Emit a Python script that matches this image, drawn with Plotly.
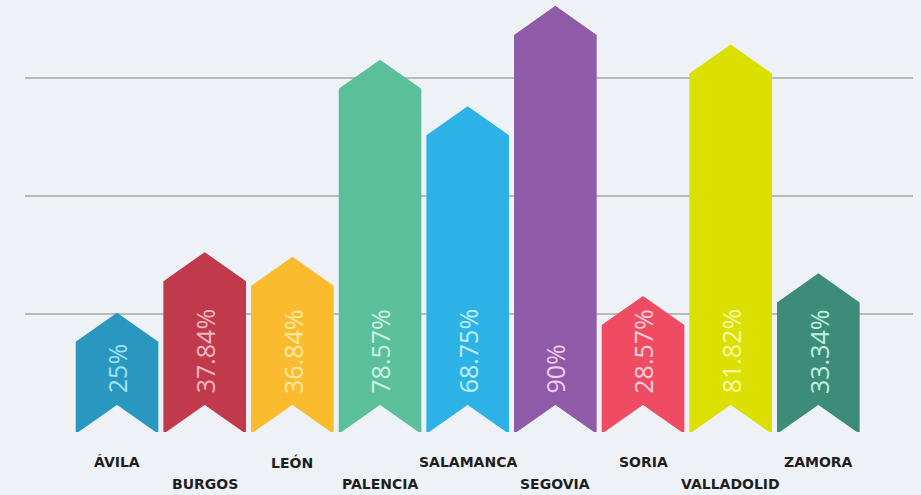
import plotly.graph_objects as go

provinces = ["ÁVILA", "BURGOS", "LEÓN", "PALENCIA", "SALAMANCA", "SEGOVIA", "SORIA", "VALLADOLID", "ZAMORA"]
values = [25, 37.84, 36.84, 78.57, 68.75, 90, 28.57, 81.82, 33.34]
labels = ["25%", "37.84%", "36.84%", "78.57%", "68.75%", "90%", "28.57%", "81.82%", "33.34%"]
colors = ["#2a97c0", "#c13a4b", "#fbbb2e", "#5cbf9c", "#2db2e8", "#8f5ba8", "#ef4b63", "#dce000", "#3d8c78"]
text_colors = ["#9fe4f7", "#f6b8c4", "#fde9a6", "#cdf5e3", "#c4efff", "#f2cdf2", "#ffd3db", "#f8f8a8", "#bdf0e2"]
grid_values = [0, 25, 50, 75]

hw = 0.46   # half bar width (category units)
d = 6.0     # chevron depth (value units)

fig = go.Figure()
for i, (v, c) in enumerate(zip(values, colors)):
    xs = [i - hw, i - hw, i, i + hw, i + hw, i, i - hw]
    ys = [0, v - d, v, v - d, 0, d, 0]
    fig.add_trace(go.Scatter(
        x=xs, y=ys, mode="lines", fill="toself", fillcolor=c,
        line=dict(color=c, width=2), hoverinfo="skip", showlegend=False,
    ))
    fig.add_annotation(
        x=i, y=d, yshift=8, text=labels[i], textangle=-90, showarrow=False,
        xanchor="center", yanchor="bottom",
        font=dict(family="Open Sans", size=25, color=text_colors[i]),
    )
    fig.add_annotation(
        x=i, y=0, yshift=-30 if i % 2 == 0 else -52, text="<b>" + provinces[i] + "</b>",
        showarrow=False, xanchor="center", yanchor="middle",
        font=dict(family="DejaVu Sans", size=14, color="#1e1e1e"),
    )

fig.update_layout(
    width=921, height=495,
    margin=dict(l=25, r=8, t=0, b=63),
    paper_bgcolor="#eef2f6", plot_bgcolor="#eef2f6",
    xaxis=dict(range=[-1.05, 9.08], showgrid=False, zeroline=False, showticklabels=False, fixedrange=True),
    yaxis=dict(range=[0, 91.5], tickvals=grid_values, showgrid=True, gridcolor="#b8b8b8", gridwidth=2,
               zeroline=False, showticklabels=False, fixedrange=True),
)

fig.write_html("out.html", config={"displayModeBar": False},
               post_script="document.body.style.margin='0';")
